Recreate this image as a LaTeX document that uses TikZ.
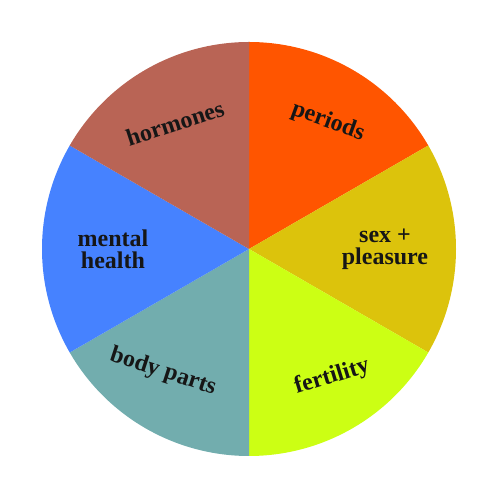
\documentclass[tikz,border=0pt]{standalone}
\usepackage{fontspec}
\setmainfont{Liberation Serif}
\definecolor{cperiods}{HTML}{FF5500}
\definecolor{csex}{HTML}{DCC30C}
\definecolor{cfert}{HTML}{CCFF14}
\definecolor{cbody}{HTML}{72ADAE}
\definecolor{cmental}{HTML}{4682FF}
\definecolor{chorm}{HTML}{B96455}
\definecolor{ctext}{HTML}{161616}
\begin{document}
\begin{tikzpicture}[x=1pt,y=1pt,
  lbl/.style={text=ctext,align=center,font=\fontsize{24}{22}\selectfont\bfseries,inner sep=0pt}]
\useasboundingbox (0,0) rectangle (500,500);
\coordinate (c) at (249,251);
\def\R{207}
\fill[cperiods] (c) -- ++(90:\R) arc[start angle=90,end angle=30,radius=\R] -- cycle;
\fill[csex] (c) -- ++(30:\R) arc[start angle=30,end angle=-30,radius=\R] -- cycle;
\fill[cfert] (c) -- ++(-30:\R) arc[start angle=-30,end angle=-90,radius=\R] -- cycle;
\fill[cbody] (c) -- ++(-90:\R) arc[start angle=-90,end angle=-150,radius=\R] -- cycle;
\fill[cmental] (c) -- ++(-150:\R) arc[start angle=-150,end angle=-210,radius=\R] -- cycle;
\fill[chorm] (c) -- ++(150:\R) arc[start angle=150,end angle=90,radius=\R] -- cycle;
\node[lbl,rotate=18] (hormones) at (175,377) {hormones};
\node[lbl,rotate=-20] (periods) at (328,378) {periods};
\node[lbl] (mental) at (113,251) {mental\\health};
\node[lbl] (sex) at (385,251) {sex +\\pleasure};
\node[lbl,rotate=-18] (body) at (163,128) {body parts};
\node[lbl,rotate=17] (fert) at (332,123) {fertility};
\end{tikzpicture}
\end{document}
